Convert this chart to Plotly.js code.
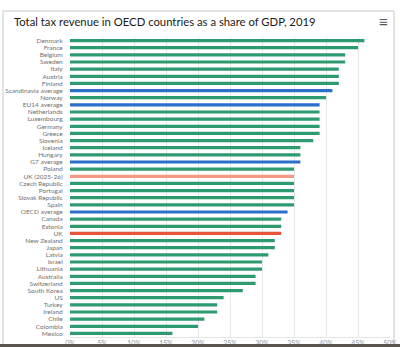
<!DOCTYPE html>
<html>
<head>
<meta charset="utf-8">
<script src="https://cdn.plot.ly/plotly-3.0.1.min.js"></script>
<style>html,body{margin:0;padding:0;background:#fff;}#chart{width:400px;height:347px;}</style>
</head>
<body>
<div id="chart"></div>
<script>
const countries = ["Denmark","France","Belgium","Sweden","Italy","Austria","Finland","Scandinavia average","Norway","EU14 average","Netherlands","Luxembourg","Germany","Greece","Slovenia","Iceland","Hungary","G7 average","Poland","UK (2025-26)","Czech Republic","Portugal","Slovak Republic","Spain","OECD average","Canada","Estonia","UK","New Zealand","Japan","Latvia","Israel","Lithuania","Australia","Switzerland","South Korea","US","Turkey","Ireland","Chile","Colombia","Mexico"];
const taxShare = [46,45,43,43,42,42,42,41,40,39,39,39,39,39,38,36,36,36,35,35,35,35,35,35,34,33,33,33,32,32,31,30,30,29,29,27,24,23,23,21,20,16];
const xTickVals = [0,5,10,15,20,25,30,35,40,45,50];
const xTickText = ["0%","5%","10%","15%","20%","25%","30%","35%","40%","45%","50%"];

const colorFor = c => {
  if (c.indexOf("average") >= 0) return "#2b6fca";
  if (c === "UK (2025-26)") return "#f59a85";
  if (c === "UK") return "#e8543a";
  return "#2d9a6f";
};

const trace = {
  type: "bar",
  orientation: "h",
  y: countries,
  x: taxShare,
  marker: {color: countries.map(colorFor)},
  hoverinfo: "x+y"
};

const layout = {
  width: 400, height: 347,
  margin: {l: 70, r: 10, t: 37, b: 10},
  paper_bgcolor: "#fff", plot_bgcolor: "#fff",
  bargap: 0.55,
  showlegend: false,
  title: {text: "Total tax revenue in OECD countries as a share of GDP, 2019",
          font: {family: "Lato, sans-serif", size: 11.3, color: "#1a1a1a"},
          x: 14/400, xanchor: "left", y: 1 - 22/347, yanchor: "middle"},
  xaxis: {range: [0, 50], tickvals: xTickVals, ticktext: xTickText,
          showgrid: true, gridcolor: "#e8e8e8", zeroline: false,
          showline: true, linecolor: "#e4e4e4",
          tickfont: {family: "Lato, sans-serif", size: 7, color: "#999"}, fixedrange: true},
  yaxis: {autorange: "reversed", showgrid: false, zeroline: false,
          tickmode: "array", tickvals: countries, ticktext: countries,
          ticks: "outside", ticklen: 5, tickcolor: "rgba(0,0,0,0)",
          tickfont: {family: "Lato, sans-serif", size: 6.5, color: "#707070"}, fixedrange: true},
  shapes: [
    {type: "rect", xref: "paper", yref: "paper", x0: (3-70)/320, x1: (394-70)/320,
     y0: -0.2, y1: (337-11)/300, line: {color: "#c8c8c8", width: 1}, layer: "below"},
    {type: "rect", xref: "paper", yref: "paper", x0: -0.3, x1: 1.1,
     y0: (337-347)/300 - 0.01, y1: (337-344)/300, fillcolor: "#5a544e", line: {width: 0}, layer: "above"}
  ],
  annotations: [
    {text: "≡", xref: "paper", yref: "paper", x: (383-70)/320, y: (337-21)/300,
     showarrow: false, font: {size: 15, color: "#555"}, xanchor: "center", yanchor: "middle"}
  ]
};

Plotly.newPlot("chart", [trace], layout, {displayModeBar: false, staticPlot: true});
</script>
</body>
</html>
